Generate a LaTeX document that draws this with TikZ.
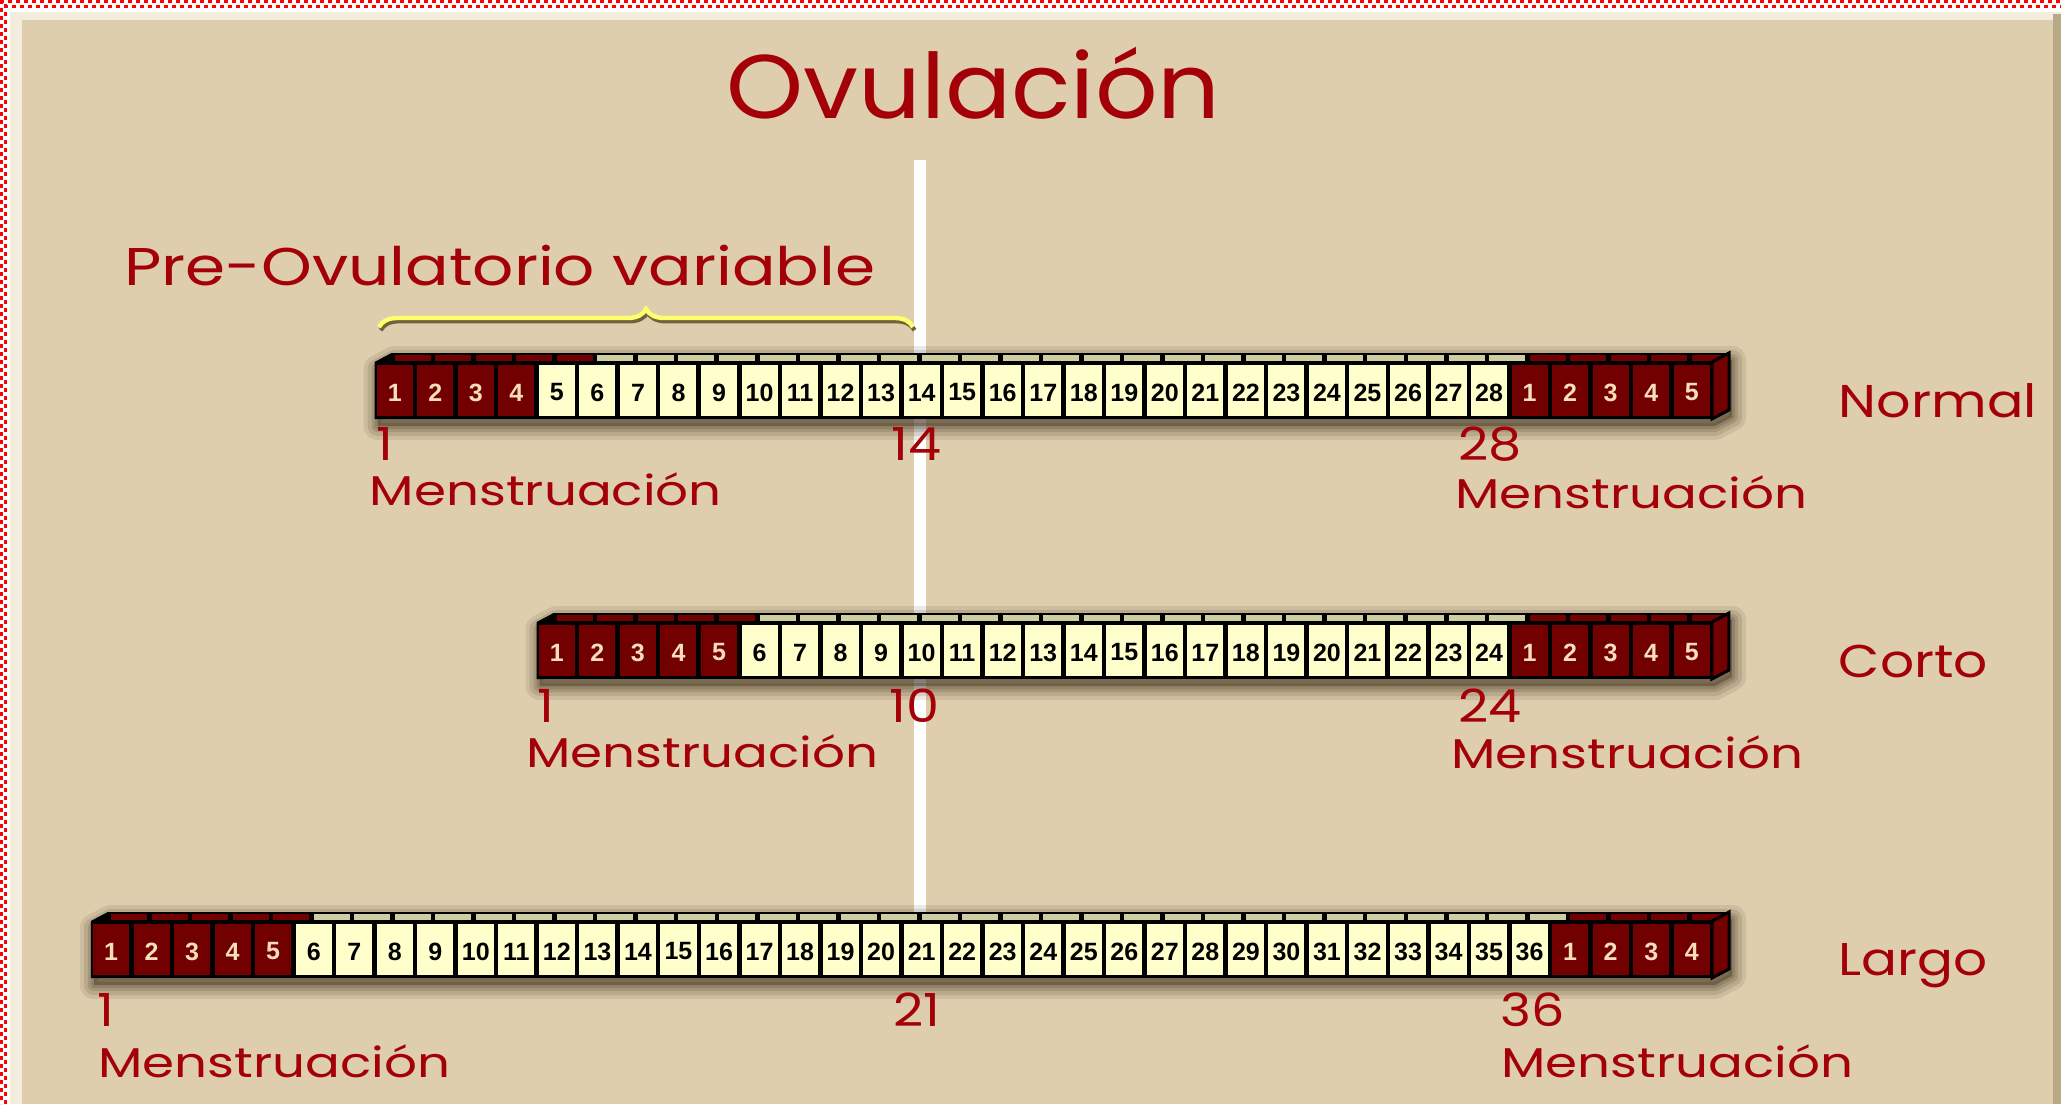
\documentclass[tikz,border=0pt]{standalone}
\usepackage{fontspec}
\usepackage{graphicx}
\usetikzlibrary{decorations.pathreplacing}
\newfontfamily\popfont{Poppins}
\newfontfamily\cellfont{Liberation Sans}
\definecolor{bgtan}{RGB}{222,206,174}
\definecolor{bandlight}{RGB}{243,237,222}
\definecolor{edgedark}{RGB}{185,170,135}
\definecolor{cellred}{RGB}{114,0,0}
\definecolor{cream}{RGB}{255,255,204}
\definecolor{khaki}{RGB}{206,206,160}
\definecolor{numcream}{RGB}{245,222,185}
\definecolor{txtred}{RGB}{163,0,8}
\definecolor{braceyellow}{RGB}{255,255,110}
\definecolor{braceshade}{RGB}{110,100,60}
\definecolor{dashred}{RGB}{255,0,0}
\definecolor{shadowcol}{RGB}{60,45,25}

\newcommand\fittext[3]{\resizebox{#1}{#2}{\smash{\popfont #3}\vphantom{\popfont H}}}
\newcommand\numtext[1]{\scalebox{1.15}[1]{\resizebox{!}{16.5pt}{\smash{\popfont #1}\vphantom{\popfont 1}}}}

\def\bpitch{40.53}
\def\barh{57}
\def\bdx{17}
\def\bdy{9}
\def\bsh{18}

\tikzset{
  cellnum/.style={font=\cellfont\bfseries\fontsize{12.5pt}{12.5pt}\selectfont, inner sep=0pt, anchor=center},
  txt/.style={text=txtred, inner sep=0pt, anchor=base west},
  softshadow/.style={draw=shadowcol, line join=round, opacity=#1},
}

% #1 tag, #2 left, #3 top, #4 cycle length, #5 tail red count, #6 head red count (front)
\newcommand\drawbar[6]{%
  \pgfmathtruncatemacro\nc{#4+#5}%
  \pgfmathsetmacro\rx{#2+\nc*\bpitch}%
  \begin{scope}[shift={(3,7)}]
    \foreach \lw/\op in {14pt/0.10, 10pt/0.13, 6pt/0.16, 3pt/0.18}{%
      \draw[softshadow=\op, line width=\lw] (#2,#3+\barh) -- (#2,#3) -- (#2+\bdx,#3-\bdy) -- (\rx+\bdx,#3-\bdy) -- (\rx+\bdx,#3+\barh-\bdy) -- (\rx,#3+\barh) -- cycle;
    }
    \fill[shadowcol, opacity=0.4] (#2,#3+\barh) -- (#2,#3) -- (#2+\bdx,#3-\bdy) -- (\rx+\bdx,#3-\bdy) -- (\rx+\bdx,#3+\barh-\bdy) -- (\rx,#3+\barh) -- cycle;
  \end{scope}
  \fill[black] (#2,#3+\barh) -- (#2,#3) -- (#2+\bdx,#3-\bdy) -- (\rx+\bdx,#3-\bdy) -- (\rx+\bdx,#3+\barh-\bdy) -- (\rx,#3+\barh) -- cycle;
  \foreach \i in {1,...,\nc}{%
    \pgfmathsetmacro\xa{#2+(\i-1)*\bpitch}%
    \pgfmathtruncatemacro\frontred{(\i<#6+1)||(\i>#4)}%
    \pgfmathtruncatemacro\topred{(\i<6)||(\i>#4)}%
    \pgfmathtruncatemacro\lab{\i>#4 ? \i-#4 : \i}%
    \ifnum\frontred=1 \def\cf{cellred}\def\nf{numcream}\else\def\cf{cream}\def\nf{black}\fi
    \ifnum\topred=1 \def\tf{cellred}\else\def\tf{khaki}\fi
    \fill[fill=\cf] (\xa+2.25,#3+3) rectangle (\xa+\bpitch-2.25,#3+\barh-3);
    \fill[fill=\tf] (\xa+2.25+\bsh,#3-7) rectangle (\xa+\bpitch-2.25+\bsh,#3-1.5);
    \node[cellnum,text=\nf] (#1-\i) at (\xa+\bpitch/2,#3+\barh/2+2) {\lab};
  }
  \filldraw[fill=cellred,draw=black,line width=1.5pt,line join=miter] (\rx,#3) -- (\rx+\bdx,#3-\bdy) -- (\rx+\bdx,#3+\barh-\bdy) -- (\rx,#3+\barh) -- cycle;
}

\begin{document}
\begin{tikzpicture}[x=0.5pt,y=-0.5pt]
\useasboundingbox (0,0) rectangle (2061,1104);
% frame
\fill[white] (0,0) rectangle (2061,1104);
\fill[bandlight] (10,12) rectangle (2061,1104);
\fill[bgtan] (22,20) rectangle (2053,1104);
\fill[edgedark] (2053,14) rectangle (2061,1104);
\draw[dashred, line width=1.5pt, dash pattern=on 2pt off 2pt] (0,1.5) -- (2061,1.5);
\draw[dashred, line width=1.5pt, dash pattern=on 2pt off 2pt, dash phase=2pt] (0,6.5) -- (2061,6.5);
\draw[dashred, line width=1.5pt, dash pattern=on 2pt off 2pt] (1.5,0) -- (1.5,1104);
\draw[dashred, line width=1.5pt, dash pattern=on 2pt off 2pt, dash phase=2pt] (5.5,0) -- (5.5,1104);

% ovulation line
\fill[white] (914,160) rectangle (926,915);

% title and brace
\node[txt] (title) at (726,118) {\fittext{247pt}{31.5pt}{Ovulación}};
\node[txt] (pre) at (124,285) {\fittext{375.5pt}{18.5pt}{Pre-Ovulatorio variable}};
\coordinate (brL) at (379,327);
\coordinate (brR) at (913,327);
\draw[braceshade, line width=2.2pt, decorate, decoration={brace, amplitude=9pt}] ([xshift=0.8pt,yshift=-1.6pt]brL) -- ([xshift=0.8pt,yshift=-1.6pt]brR);
\draw[braceyellow, line width=2.2pt, decorate, decoration={brace, amplitude=9pt}] (brL) -- (brR);

% bars
\drawbar{N}{374.5}{362}{28}{5}{4}
\drawbar{C}{536.6}{622}{24}{5}{5}
\drawbar{L}{90.8}{921}{36}{4}{5}

% row labels
\node[txt] (lnormal) at (1838.5,417) {\fittext{99pt}{16pt}{Normal}};
\node[txt] (lcorto) at (1838.5,677) {\fittext{74.5pt}{16pt}{Corto}};
\node[txt] (llargo) at (1838.5,975) {\fittext{74.5pt}{16pt}{Largo}};

% numbers
\node[txt] (n1) at (376,460) {\numtext{1}};
\node[txt] (n14) at (891,460) {\numtext{14}};
\node[txt] (n28) at (1458,460) {\numtext{28}};
\node[txt] (c1) at (537,722) {\numtext{1}};
\node[txt] (c10) at (889,722) {\numtext{10}};
\node[txt] (c24) at (1458,722) {\numtext{24}};
\node[txt] (g1) at (97,1026) {\numtext{1}};
\node[txt] (g21) at (893,1026) {\numtext{21}};
\node[txt] (g36) at (1500,1026) {\numtext{36}};

% Menstruacion labels
\node[txt] (mn1) at (369.5,505) {\fittext{176pt}{14.5pt}{Menstruación}};
\node[txt] (mn2) at (1455,508) {\fittext{176pt}{14.5pt}{Menstruación}};
\node[txt] (mc1) at (526,767) {\fittext{176pt}{14.5pt}{Menstruación}};
\node[txt] (mc2) at (1451,768) {\fittext{176pt}{14.5pt}{Menstruación}};
\node[txt] (ml1) at (98,1077) {\fittext{176pt}{14.5pt}{Menstruación}};
\node[txt] (ml2) at (1501,1077) {\fittext{176pt}{14.5pt}{Menstruación}};
\end{tikzpicture}
\end{document}
